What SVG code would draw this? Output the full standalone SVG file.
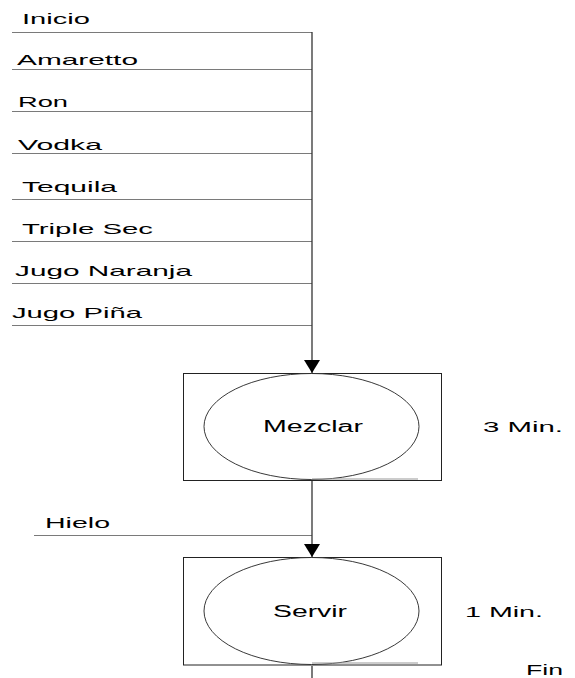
<svg xmlns="http://www.w3.org/2000/svg" width="575" height="678" viewBox="0 0 575 678">
  <style>
    .lbl { font-family: "Liberation Sans", Arial, sans-serif; font-size: 15px; fill: #000; }
    .big { font-size: 16px; }
    .feed { stroke: #7a7a7a; stroke-width: 1; fill: none; }
    .flow { stroke: #333; stroke-width: 1.3; fill: none; }
    .box { stroke: #222; stroke-width: 1; fill: #fff; }
    .oval { stroke: #222; stroke-width: 0.9; fill: #fff; }
    .base { stroke: #999; stroke-width: 1; }
  </style>
  <defs>
    <marker id="arrow" markerWidth="13" markerHeight="16" refX="13" refY="8" orient="auto" markerUnits="userSpaceOnUse" viewBox="0 0 13 16">
      <path d="M0,0 L13,8 L0,16 Z" fill="#000"/>
    </marker>
  </defs>

  <!-- input lines and labels -->
  <g id="inputs">
    <g id="inicio"><line class="feed" x1="12" y1="32.5" x2="312" y2="32.5"/><text class="lbl" x="22" y="24" textLength="68" lengthAdjust="spacingAndGlyphs">Inicio</text></g>
    <g id="amaretto"><line class="feed" x1="12" y1="69.5" x2="312" y2="69.5"/><text class="lbl" x="17" y="65" textLength="121" lengthAdjust="spacingAndGlyphs">Amaretto</text></g>
    <g id="ron"><line class="feed" x1="12" y1="111.5" x2="312" y2="111.5"/><text class="lbl" x="18" y="107" textLength="50" lengthAdjust="spacingAndGlyphs">Ron</text></g>
    <g id="vodka"><line class="feed" x1="12" y1="153.5" x2="312" y2="153.5"/><text class="lbl" x="18" y="150" textLength="84" lengthAdjust="spacingAndGlyphs">Vodka</text></g>
    <g id="tequila"><line class="feed" x1="12" y1="199.5" x2="312" y2="199.5"/><text class="lbl" x="22" y="192" textLength="95" lengthAdjust="spacingAndGlyphs">Tequila</text></g>
    <g id="triple-sec"><line class="feed" x1="12" y1="241.5" x2="312" y2="241.5"/><text class="lbl" x="22" y="234" textLength="131" lengthAdjust="spacingAndGlyphs">Triple Sec</text></g>
    <g id="jugo-naranja"><line class="feed" x1="12" y1="283.5" x2="312" y2="283.5"/><text class="lbl" x="15" y="276" textLength="177" lengthAdjust="spacingAndGlyphs">Jugo Naranja</text></g>
    <g id="jugo-pina"><line class="feed" x1="12" y1="325.5" x2="312" y2="325.5"/><text class="lbl" x="12" y="318" textLength="130" lengthAdjust="spacingAndGlyphs">Jugo Piña</text></g>
    <g id="hielo"><line class="feed" x1="34" y1="535.5" x2="312" y2="535.5"/><text class="lbl" x="45" y="528" textLength="65" lengthAdjust="spacingAndGlyphs">Hielo</text></g>
  </g>

  <!-- main flow connectors -->
  <g id="connectors">
    <line class="flow" x1="312" y1="32" x2="312" y2="373" marker-end="url(#arrow)"/>
    <line class="flow" x1="312" y1="481" x2="312" y2="557" marker-end="url(#arrow)"/>
    <line class="flow" x1="312" y1="666" x2="312" y2="678"/>
  </g>

  <!-- operation: Mezclar -->
  <g id="mezclar">
    <rect class="box" x="183.5" y="373.5" width="258" height="107"/>
    <ellipse class="oval" cx="311.5" cy="426.5" rx="107.5" ry="53"/>
    <line class="base" x1="312" y1="479" x2="418" y2="479"/>
    <text class="lbl big" x="263" y="432" textLength="100" lengthAdjust="spacingAndGlyphs">Mezclar</text>
  </g>
  <text id="t-mezclar" class="lbl" x="483" y="432" textLength="80" lengthAdjust="spacingAndGlyphs">3 Min.</text>

  <!-- operation: Servir -->
  <g id="servir">
    <rect class="box" x="183.5" y="557.5" width="258" height="107.5"/>
    <ellipse class="oval" cx="311.5" cy="611" rx="107.5" ry="53.5"/>
    <line class="base" x1="312" y1="663" x2="418" y2="663"/>
    <text class="lbl big" x="273" y="617" textLength="74" lengthAdjust="spacingAndGlyphs">Servir</text>
  </g>
  <text id="t-servir" class="lbl" x="465" y="617" textLength="78" lengthAdjust="spacingAndGlyphs">1 Min.</text>

  <g id="fin">
    <text class="lbl" x="526" y="675" textLength="37" lengthAdjust="spacingAndGlyphs">Fin</text>
  </g>
</svg>
